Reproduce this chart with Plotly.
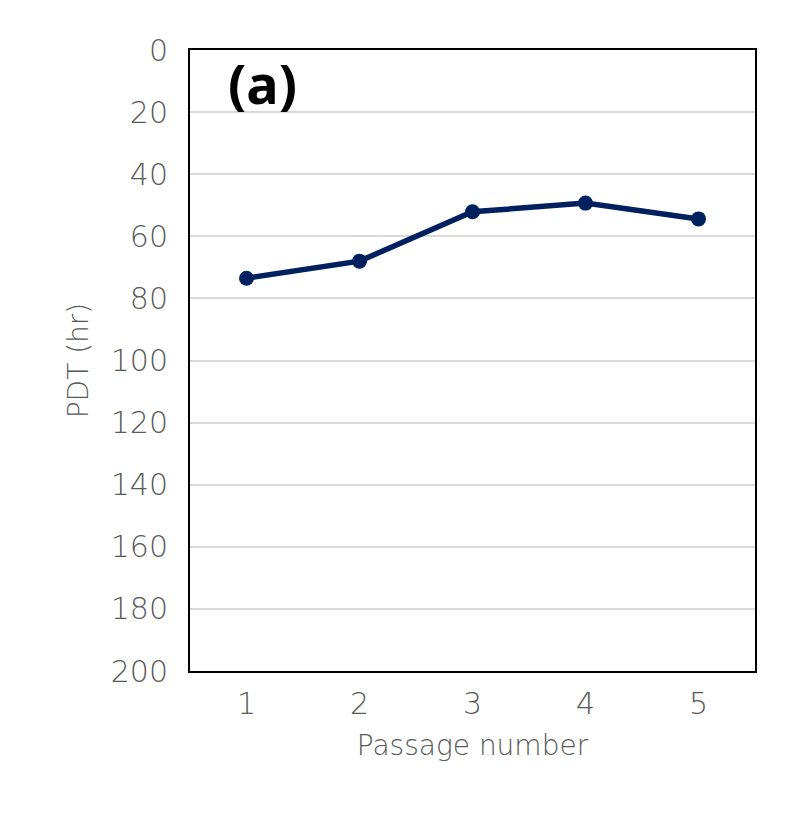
import plotly.graph_objects as go

passage = [1, 2, 3, 4, 5]
pdt_hr = [73.5, 68.0, 52.1, 49.3, 54.4]
y_ticks = [0, 20, 40, 60, 80, 100, 120, 140, 160, 180, 200]

FONT = "DejaVu Sans"
GRAY = "#595959"

fig = go.Figure()
fig.add_trace(go.Scatter(
    x=passage, y=pdt_hr, mode="lines+markers",
    line=dict(color="#002060", width=5.5),
    marker=dict(color="#002060", size=15),
    showlegend=False,
))

fig.update_layout(
    width=806, height=821,
    margin=dict(l=182, r=59, t=42, b=158),
    paper_bgcolor="white", plot_bgcolor="white",
    font=dict(family=FONT, color=GRAY),
    xaxis=dict(
        range=[0.5, 5.5], tickvals=passage, ticktext=[str(p) for p in passage],
        showgrid=False, zeroline=False, ticks="",
        showline=True, mirror=True, linecolor="black", linewidth=2,
        tickfont=dict(size=30, color=GRAY, family=FONT, weight=300),
        ticklabelstandoff=5,
        title=dict(text="Passage number", font=dict(size=28, color=GRAY, family=FONT, weight=300), standoff=15),
    ),
    yaxis=dict(
        range=[200, 0], tickvals=y_ticks,
        showgrid=True, gridcolor="#d9d9d9", gridwidth=2, zeroline=False, ticks="",
        showline=True, mirror=True, linecolor="black", linewidth=2,
        tickfont=dict(size=30, color=GRAY, family=FONT, weight=300),
        ticklabelstandoff=14,
        title=dict(text="PDT (hr)", font=dict(size=28, color=GRAY, family=FONT, weight=300), standoff=14),
    ),
    annotations=[dict(
        x=0.129, y=0.947, xref="paper", yref="paper", xanchor="center", yanchor="middle",
        text="<b>(a)</b>", showarrow=False,
        font=dict(size=54, color="black", family="Noto Sans"),
    )],
)

fig.write_html("out.html")
